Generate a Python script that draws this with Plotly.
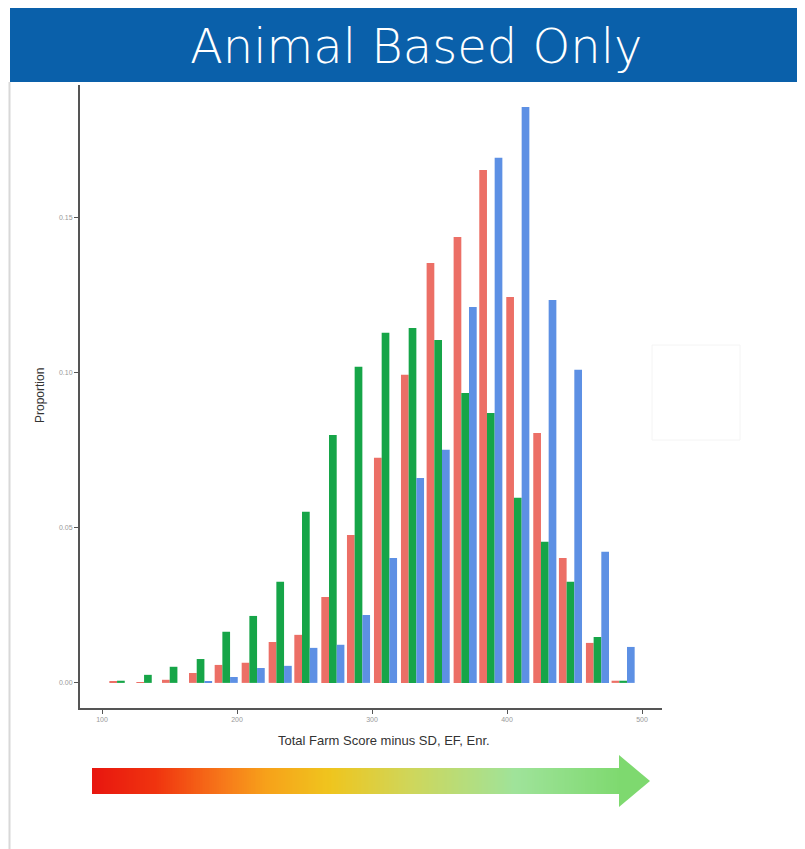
import numpy as np
import plotly.graph_objects as go

OFF = 8          # page body margin
W, H = 797, 841  # figure size so that page = 805 x 849

# ---- data ----
scores = [114, 134, 153, 173, 192, 212, 232, 251, 271, 290,
          310, 330, 349, 369, 388, 408, 428, 447, 467, 486]
red_vals = [0.0003, 0.0002, 0.0010, 0.0032, 0.0058, 0.0065, 0.0132, 0.0155, 0.0277, 0.0477,
            0.0726, 0.0994, 0.1355, 0.1439, 0.1655, 0.1245, 0.0806, 0.0403, 0.0129, 0.0007]
green_vals = [0.0007, 0.0026, 0.0052, 0.0077, 0.0165, 0.0216, 0.0326, 0.0552, 0.0800, 0.1020,
              0.1130, 0.1145, 0.1106, 0.0935, 0.0871, 0.0597, 0.0455, 0.0326, 0.0148, 0.0007]
blue_vals = [0.0, 0.0, 0.0, 0.0005, 0.0019, 0.0048, 0.0055, 0.0113, 0.0123, 0.0219,
             0.0403, 0.0661, 0.0752, 0.1213, 0.1694, 0.1858, 0.1235, 0.1010, 0.0423, 0.0116]
x_ticks = [100, 200, 300, 400, 500]
y_ticks = [0.00, 0.05, 0.10, 0.15]
y_tick_labels = ["0.00", "0.05", "0.10", "0.15"]

RED, GREEN, BLUE = "#ec6f66", "#16a548", "#5d90e4"

def px_x(p):
    return (p - OFF) / W

def px_y(p):
    return 1 - (p - OFF) / H

fig = go.Figure()
for vals, col in [(red_vals, RED), (green_vals, GREEN), (blue_vals, BLUE)]:
    fig.add_trace(go.Bar(x=scores, y=vals, marker=dict(color=col, line=dict(width=0)),
                         showlegend=False, xaxis="x", yaxis="y"))

# gradient arrow body
grad = np.linspace(0, 1, 300)
fig.add_trace(go.Heatmap(z=[grad], x=np.arange(300), y=[0], xaxis="x2", yaxis="y2",
                         showscale=False, hoverinfo="skip",
                         colorscale=[[0, "#e8160f"], [0.12, "#f0340f"], [0.25, "#f77a1a"],
                                     [0.33, "#f7a21a"], [0.45, "#efc51e"], [0.6, "#cfd65a"],
                                     [0.8, "#9fe39a"], [1, "#7ed96f"]]))

tickfont = dict(family="Liberation Sans, Arial", size=7, color="#999")
fig.update_layout(
    width=W, height=H,
    margin=dict(l=0, r=0, t=0, b=0),
    paper_bgcolor="white", plot_bgcolor="white",
    barmode="group", bargap=0.1, bargroupgap=0,
    xaxis=dict(domain=[px_x(80), px_x(662)], range=[83.7, 514.8],
               tickvals=x_ticks, ticktext=[str(v) for v in x_ticks],
               showgrid=False, zeroline=False, showline=True, linecolor="#555", linewidth=2,
               ticks="outside", ticklen=4, tickcolor="#555", tickfont=tickfont),
    yaxis=dict(domain=[px_y(708), px_y(85)], range=[-0.0081, 0.1929],
               tickvals=y_ticks, ticktext=y_tick_labels,
               showgrid=False, zeroline=False, showline=True, linecolor="#555", linewidth=2,
               ticks="outside", ticklen=4, tickcolor="#555", tickfont=tickfont),
    xaxis2=dict(domain=[px_x(92), px_x(622)], visible=False, anchor="y2"),
    yaxis2=dict(domain=[px_y(794), px_y(768)], visible=False, anchor="x2"),
)

shapes = [
    # title band
    dict(type="rect", xref="paper", yref="paper", x0=px_x(10), x1=1, y0=px_y(82), y1=1,
         fillcolor="#0a60aa", line=dict(width=0), layer="below"),
    # left light border
    dict(type="line", xref="paper", yref="paper", x0=px_x(9.5), x1=px_x(9.5), y0=0, y1=px_y(82),
         line=dict(color="#d8d8d8", width=2)),
    # arrow head
    dict(type="path", xref="paper", yref="paper",
         path=f"M {px_x(619)},{px_y(755)} L {px_x(650)},{px_y(781)} L {px_x(619)},{px_y(807)} Z",
         fillcolor="#7ed96f", line=dict(width=0)),
    # faint legend remnant box
    dict(type="rect", xref="paper", yref="paper", x0=px_x(652), x1=px_x(740),
         y0=px_y(440), y1=px_y(345), line=dict(color="#f4f4f4", width=1)),
]
fig.update_layout(shapes=shapes)

annotations = [
    dict(text="Animal Based Only", xref="paper", yref="paper", x=px_x(416), y=px_y(46),
         showarrow=False, font=dict(family="DejaVu Sans", size=48, color="white", weight=200),
         xanchor="center", yanchor="middle"),
    dict(text="Proportion", xref="paper", yref="paper", x=px_x(40), y=px_y(395),
         showarrow=False, textangle=-90, font=dict(family="Liberation Sans, Arial", size=12, color="#333"),
         xanchor="center", yanchor="middle"),
    dict(text="Total Farm Score minus SD, EF, Enr.", xref="paper", yref="paper",
         x=px_x(384), y=px_y(740), showarrow=False,
         font=dict(family="Liberation Sans, Arial", size=13, color="#333"),
         xanchor="center", yanchor="middle"),
]
fig.update_layout(annotations=annotations)

fig.write_html("out.html")
